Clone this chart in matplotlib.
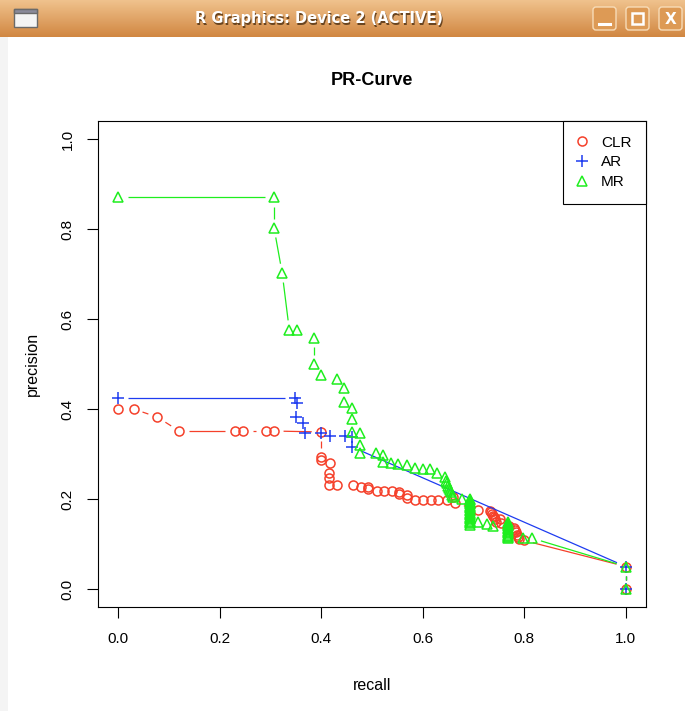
import numpy as np
import matplotlib
matplotlib.use("Agg")
import matplotlib.pyplot as plt
from matplotlib.lines import Line2D
from matplotlib.patches import Rectangle, FancyBboxPatch

plt.rcParams['font.family'] = ['Liberation Sans', 'DejaVu Sans']

# PR curve values
clr_recall = [0.0, 0.03, 0.077, 0.12, 0.23, 0.246, 0.291, 0.307, 0.40, 0.40,
              0.40, 0.417, 0.415, 0.415, 0.415, 0.431, 0.462, 0.478, 0.492, 0.492,
              0.51, 0.524, 0.539, 0.553, 0.553, 0.569, 0.569, 0.585, 0.60, 0.616,
              0.63, 0.648, 0.66, 0.663, 0.709, 0.732, 0.735, 0.737, 0.739, 0.741,
              0.743, 0.745, 0.752, 0.755, 0.77, 0.78, 0.782, 0.784, 0.786, 0.788,
              0.79, 0.799, 1.0, 1.0]
clr_precision = [0.40, 0.40, 0.382, 0.351, 0.351, 0.351, 0.351, 0.351, 0.349, 0.293,
                 0.287, 0.28, 0.258, 0.247, 0.231, 0.231, 0.231, 0.227, 0.227, 0.222,
                 0.218, 0.218, 0.218, 0.216, 0.211, 0.209, 0.202, 0.198, 0.198, 0.198,
                 0.198, 0.198, 0.205, 0.191, 0.176, 0.174, 0.171, 0.167, 0.163, 0.159,
                 0.155, 0.150, 0.156, 0.147, 0.140, 0.136, 0.131, 0.126, 0.121, 0.116,
                 0.111, 0.108, 0.05, 0.0]

ar_recall = [0.0, 0.348, 0.352, 0.35, 0.364, 0.368, 0.40, 0.417, 0.447, 0.46,
             0.46, 1.0, 1.0]
ar_precision = [0.424, 0.424, 0.413, 0.382, 0.369, 0.347, 0.347, 0.34, 0.34, 0.338,
                0.316, 0.05, 0.0]

mr_recall = [0.0, 0.307, 0.307, 0.323, 0.337, 0.352, 0.386, 0.386, 0.40, 0.431,
             0.445, 0.445, 0.461, 0.461, 0.461, 0.476, 0.476, 0.476, 0.508, 0.522,
             0.522, 0.537, 0.551, 0.569, 0.585, 0.60, 0.614, 0.628, 0.643, 0.645,
             0.647, 0.649, 0.651, 0.653, 0.655, 0.657, 0.66, 0.678,
             0.693, 0.693, 0.693, 0.693, 0.693, 0.693, 0.693, 0.693, 0.693, 0.693,
             0.693, 0.693, 0.693, 0.693, 0.693, 0.693, 0.693, 0.693, 0.693, 0.693,
             0.709, 0.726, 0.738,
             0.769, 0.769, 0.769, 0.769, 0.769, 0.769, 0.769, 0.769, 0.769,
             0.769, 0.769, 0.769, 0.769,
             0.797, 0.815, 1.0, 1.0]
mr_precision = [0.871, 0.871, 0.802, 0.702, 0.576, 0.576, 0.558, 0.50, 0.476, 0.467,
                0.447, 0.416, 0.402, 0.378, 0.349, 0.347, 0.32, 0.302, 0.302, 0.298,
                0.282, 0.28, 0.278, 0.276, 0.269, 0.267, 0.267, 0.258, 0.25, 0.24,
                0.235, 0.23, 0.225, 0.22, 0.215, 0.21, 0.205, 0.20,
                0.200, 0.197, 0.194, 0.191, 0.188, 0.185, 0.182, 0.179, 0.176, 0.173,
                0.170, 0.167, 0.164, 0.161, 0.158, 0.155, 0.152, 0.149, 0.146, 0.143,
                0.148, 0.145, 0.140,
                0.148, 0.145, 0.142, 0.139, 0.136, 0.133, 0.130, 0.127, 0.124,
                0.121, 0.118, 0.115, 0.113,
                0.113, 0.113, 0.05, 0.0]

ticks = [0.0, 0.2, 0.4, 0.6, 0.8, 1.0]
tick_labels = ["0.0", "0.2", "0.4", "0.6", "0.8", "1.0"]

RED = '#F5402A'
BLUE = '#1E3CF0'
GREEN = '#1EEE1E'

W, H = 685, 711
fig = plt.figure(figsize=(W / 100, H / 100), dpi=100)
fig.patch.set_facecolor('white')

ax = fig.add_axes([98 / W, 1 - 607 / H, 548 / W, 486 / H])
ax.set_xlim(-0.04, 1.04)
ax.set_ylim(-0.04, 1.04)
ax.set_autoscale_on(False)


def r_type_b(ax, x, y, color, gap=9.5):
    # lines like R's type="b": segments stop short of each point
    trans = ax.transData
    pts = trans.transform(np.column_stack([x, y]))
    inv = trans.inverted()
    for (x0, y0), (x1, y1) in zip(pts[:-1], pts[1:]):
        d = np.hypot(x1 - x0, y1 - y0)
        if d <= 2 * gap:
            continue
        ux, uy = (x1 - x0) / d, (y1 - y0) / d
        a = inv.transform([x0 + ux * gap, y0 + uy * gap])
        b = inv.transform([x1 - ux * gap, y1 - uy * gap])
        ax.plot([a[0], b[0]], [a[1], b[1]], color=color, lw=0.9, solid_capstyle='butt')


series = [
    (clr_recall, clr_precision, RED, 'o', 6.5, "CLR"),
    (ar_recall, ar_precision, BLUE, '+', 9, "AR"),
    (mr_recall, mr_precision, GREEN, '^', 7, "MR"),
]
handles = []
for x, y, c, m, ms, name in series:
    r_type_b(ax, x, y, c)
    ax.plot(x, y, ls='none', marker=m, ms=ms, mfc='none', mec=c, mew=1.1)
    handles.append(Line2D([], [], ls='none', marker=m, ms=ms, mfc='none', mec=c,
                          mew=1.1, label=name))

ax.set_xticks(ticks)
ax.set_xticklabels(tick_labels)
ax.set_yticks(ticks)
ax.set_yticklabels(tick_labels, rotation=90, va='center')
ax.tick_params(direction='out', length=8, width=0.8, labelsize=11, colors='black')
ax.tick_params(axis='x', pad=10)
ax.tick_params(axis='y', pad=9)
for s in ax.spines.values():
    s.set_linewidth(0.8)

ax.set_title("PR-Curve", fontsize=13, fontweight='bold', pad=26)
ax.set_xlabel("recall", fontsize=11.5, labelpad=23)
ax.set_ylabel("precision", fontsize=11.5, labelpad=15)

leg = ax.legend(handles=handles, loc='upper right', borderaxespad=0, fancybox=False,
                edgecolor='black', framealpha=1, fontsize=11, handlelength=0.6,
                handletextpad=0.95, labelspacing=0.38, borderpad=0.95)
leg.get_frame().set_linewidth(0.8)

# window chrome: title bar of the R graphics device
bar = fig.add_axes([0, 1 - 37 / H, 1, 37 / H])
bar.set_xlim(0, W)
bar.set_ylim(37, 0)
bar.axis('off')
grad = np.linspace(0, 1, 37)[:, None]
top = np.array([0.94, 0.76, 0.55])
bot = np.array([0.82, 0.53, 0.26])
img = top + (bot - top) * grad[..., None]
img = np.repeat(img, 2, axis=1)
bar.imshow(img, extent=[0, W, 37, 0], aspect='auto')
bar.text(320, 20, "R Graphics: Device 2 (ACTIVE)", color='#6a4520', fontsize=10.5,
         fontweight='bold', family='DejaVu Sans', ha='center', va='center')
bar.text(319, 19, "R Graphics: Device 2 (ACTIVE)", color='white', fontsize=10.5,
         fontweight='bold', family='DejaVu Sans', ha='center', va='center')
bar.add_patch(Rectangle((14, 9), 23, 18, fc='#f4f4f4', ec='#6a6a6a', lw=1))
bar.add_patch(Rectangle((14, 9), 23, 4, fc='#8a8a9a', ec='#6a6a6a', lw=1))
for bx in (593, 626, 659):
    bar.add_patch(FancyBboxPatch((bx, 7), 23, 23, boxstyle='round,pad=0,rounding_size=3',
                                 fc='#dd9a55', ec='#f7dcb8', lw=1.0))
bar.plot([599, 610], [24, 24], color='white', lw=2.2)
bar.add_patch(Rectangle((632, 13), 11, 11, fc='none', ec='white', lw=1.8))
bar.text(670.5, 19, "X", color='white', fontsize=11, fontweight='bold',
         family='DejaVu Sans', ha='center', va='center')

strip = fig.add_axes([0, 0, 8 / W, 1 - 37 / H])
strip.axis('off')
strip.add_patch(Rectangle((0, 0), 1, 1, fc='#f4f4f4', ec='none', transform=strip.transAxes))

fig.savefig("out.png", dpi=100)
